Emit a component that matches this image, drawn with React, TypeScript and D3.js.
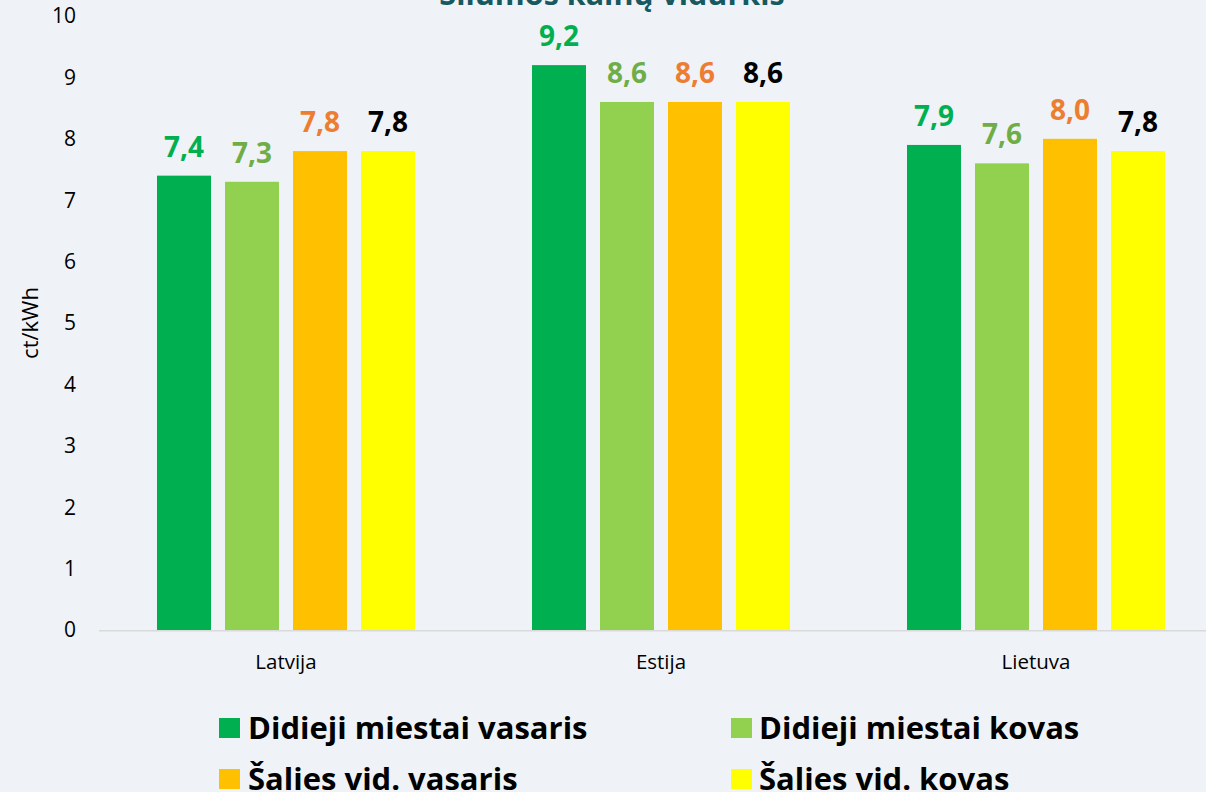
import React from "react";
import * as d3 from "d3";

const categories = ["Latvija", "Estija", "Lietuva"];
const seriesNames = ["Didieji miestai vasaris", "Didieji miestai kovas", "Šalies vid. vasaris", "Šalies vid. kovas"];
const seriesColors = ["#00B050", "#92D050", "#FFC000", "#FFFF00"];
const labelColors = ["#00B050", "#70AD47", "#ED7D31", "#000000"];
const didiejiVasaris = [7.4, 9.2, 7.9];
const didiejiKovas = [7.3, 8.6, 7.6];
const saliesVasaris = [7.8, 8.6, 8.0];
const saliesKovas = [7.8, 8.6, 7.8];
const yTicks = [0, 1, 2, 3, 4, 5, 6, 7, 8, 9, 10];
const title = "Šilumos kainų vidurkis";
const yTitle = "ct/kWh";

const seriesValues = [didiejiVasaris, didiejiKovas, saliesVasaris, saliesKovas];

const W = 1206;
const H = 792;
const FONT = "'Open Sans', 'DejaVu Sans', sans-serif";

export default function App() {
  const y = d3.scaleLinear().domain([0, 10]).range([630, 16]);
  const x0 = d3.scaleBand<string>().domain(categories).range([98.5, 1223.5]).padding(0);
  const x1 = d3
    .scaleBand<string>()
    .domain(seriesNames)
    .range([0, x0.bandwidth()])
    .paddingInner(0.206)
    .paddingOuter(0.86);
  const fmt = (v: number) => v.toFixed(1).replace(".", ",");

  const legendPos = [
    { sx: 219, sy: 718, tx: 248, ty: 739 },
    { sx: 731, sy: 718, tx: 759, ty: 739 },
    { sx: 219, sy: 769, tx: 248, ty: 790 },
    { sx: 731, sy: 769, tx: 759, ty: 790 },
  ];

  return (
    <svg
      width={W}
      height={H}
      style={{ position: "absolute", left: 0, top: 0, display: "block" }}
      fontFamily={FONT}
    >
      <rect x={0} y={0} width={W} height={H} fill="#EFF3F7" />
      <text x={612} y={5} textAnchor="middle" fontSize={30.5} fontWeight="bold" fill="#17595F">
        {title}
      </text>

      {/* y ticks */}
      {yTicks.map((t) => (
        <text key={t} x={76} y={y(t)} dy="0.35em" textAnchor="end" fontSize={21} fill="#000">
          {t}
        </text>
      ))}
      <text
        transform={`translate(38, ${323}) rotate(-90)`}
        textAnchor="middle"
        fontSize={22}
        fill="#000"
      >
        {yTitle}
      </text>

      {/* bars */}
      {categories.map((c, ci) => (
        <g key={c} transform={`translate(${x0(c)},0)`}>
          {seriesNames.map((s, si) => {
            const v = seriesValues[si][ci];
            const bx = x1(s)!;
            const bw = x1.bandwidth();
            return (
              <g key={s}>
                <rect x={bx} y={y(v)} width={bw} height={y(0) - y(v)} fill={seriesColors[si]} />
                <text
                  x={bx + bw / 2}
                  y={y(v) - 19}
                  textAnchor="middle"
                  fontSize={28}
                  fontWeight="bold"
                  fill={labelColors[si]}
                >
                  {fmt(v)}
                </text>
              </g>
            );
          })}
          <text x={x0.bandwidth() / 2} y={669} textAnchor="middle" fontSize={20.5} fill="#000">
            {c}
          </text>
        </g>
      ))}

      {/* x axis line */}
      <line x1={99} x2={W} y1={y(0) + 0.75} y2={y(0) + 0.75} stroke="#D9D9D9" strokeWidth={1.5} />

      {/* legend */}
      {seriesNames.map((s, i) => (
        <g key={s}>
          <rect x={legendPos[i].sx} y={legendPos[i].sy} width={21} height={20} fill={seriesColors[i]} />
          <text x={legendPos[i].tx} y={legendPos[i].ty} fontSize={31} fontWeight="bold" fill="#000">
            {s}
          </text>
        </g>
      ))}
    </svg>
  );
}
